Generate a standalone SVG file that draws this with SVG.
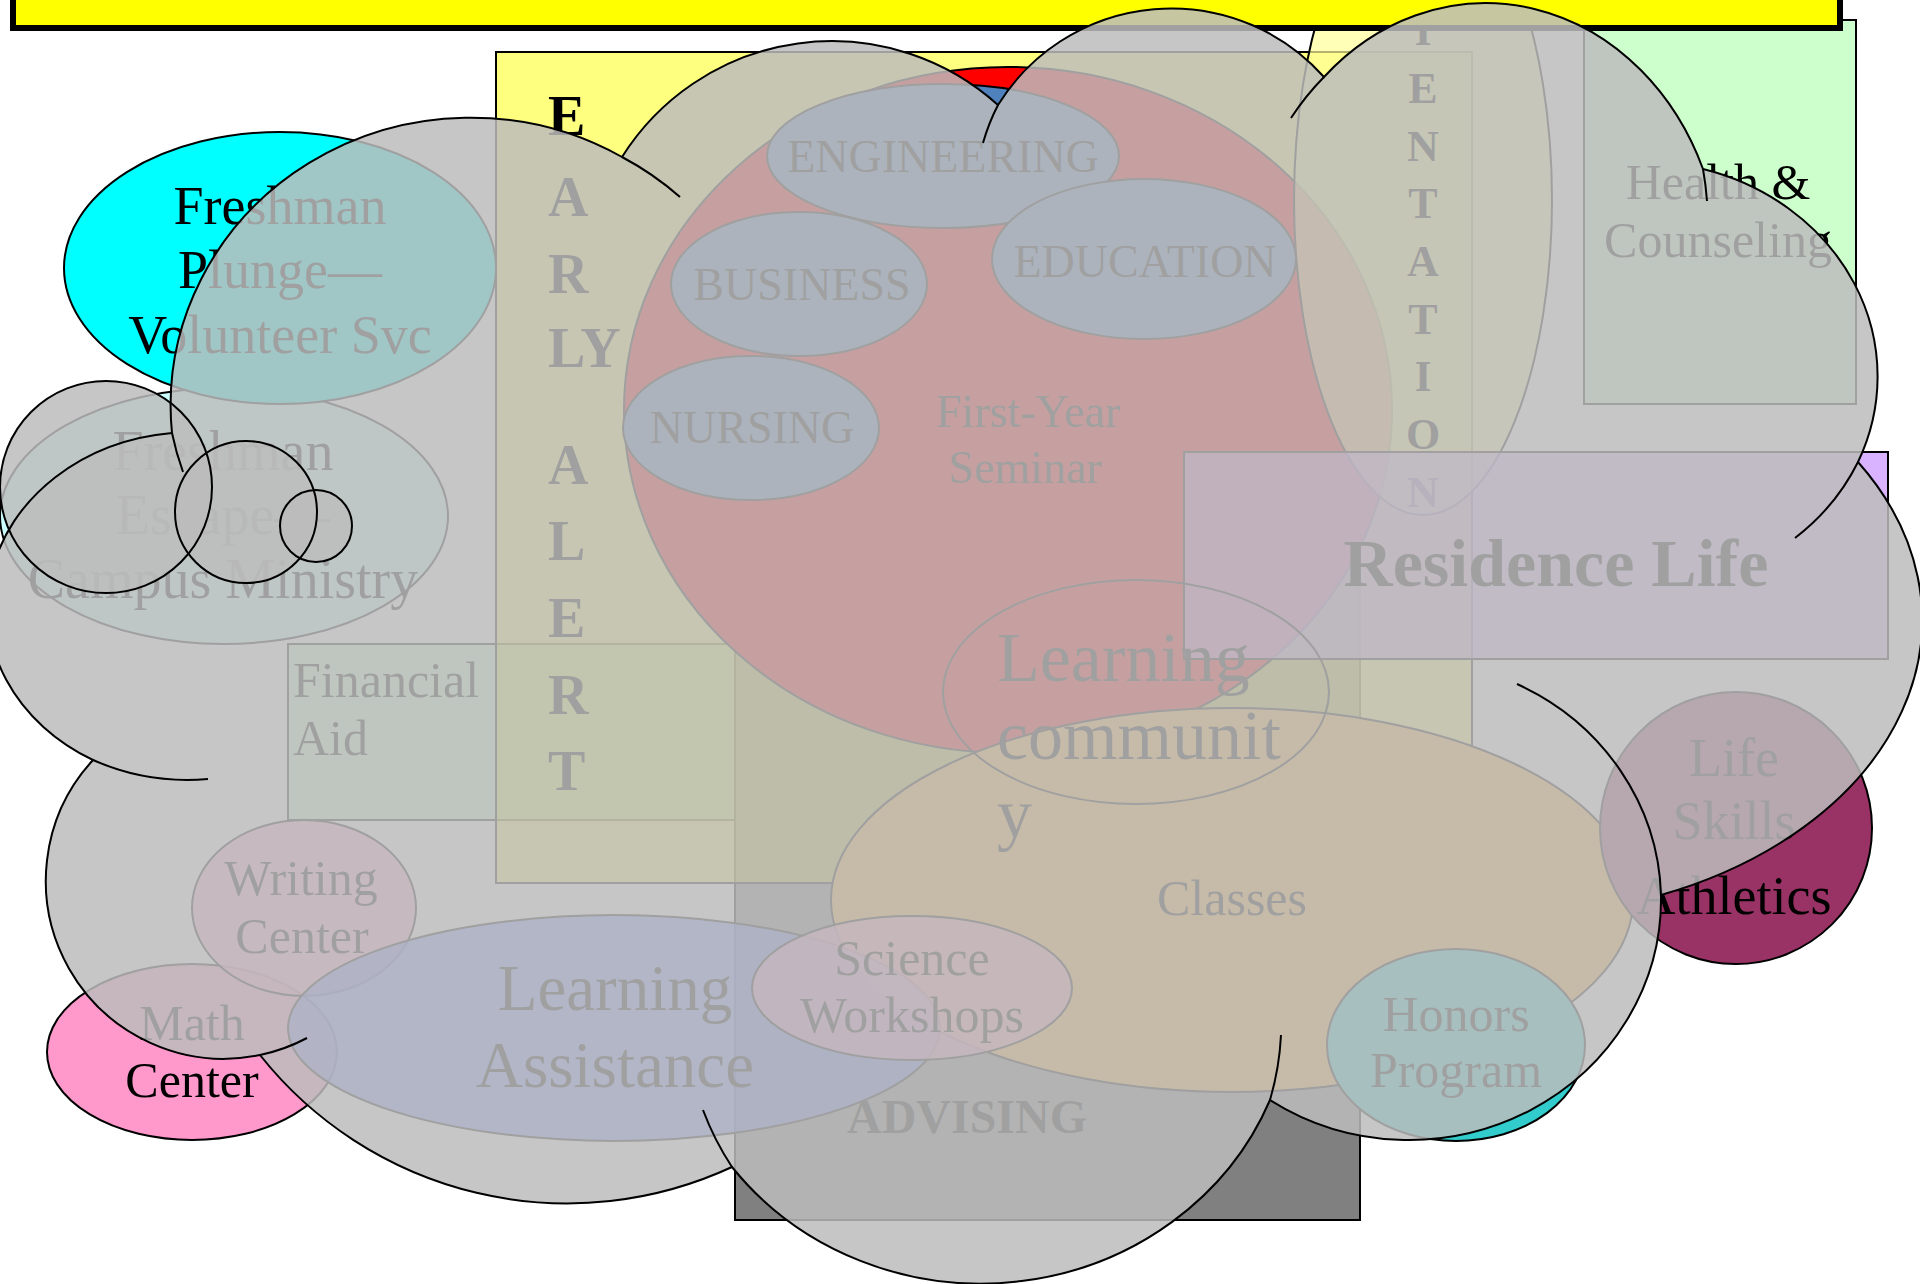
<svg xmlns="http://www.w3.org/2000/svg" width="1920" height="1284" viewBox="0 0 1920 1284">
  <style>
    text { font-family: "Liberation Serif", "Times New Roman", serif; fill: #000; }
    .c { text-anchor: middle; }
    .b { font-weight: bold; }
    .s { stroke: #000; stroke-width: 2; }
    .cloudfill { fill: #bcbcbc; fill-opacity: 0.85; stroke: none; }
    .cloudline { fill: none; stroke: #000; stroke-width: 2; }
  </style>

  <g id="health-counseling">
    <rect x="1584" y="20" width="272" height="384" fill="#ccffcc" class="s"/>
    <text class="c" x="1718" y="199" font-size="50">Health &amp;</text>
    <text class="c" x="1718" y="257" font-size="50">Counseling</text>
  </g>

  <g id="financial-aid">
    <rect x="288" y="644" width="447" height="176" fill="#ccffcc" class="s"/>
    <text x="293" y="697" font-size="50">Financial</text>
    <text x="293" y="755" font-size="50">Aid</text>
  </g>

  <g id="advising">
    <rect x="735" y="450" width="625" height="770" fill="#808080" class="s"/>
    <text class="c b" x="967" y="1133" font-size="48">ADVISING</text>
  </g>

  <g id="freshman-escape">
    <ellipse cx="224" cy="516" rx="224" ry="128" fill="#ccffff" class="s"/>
    <text class="c" x="223" y="470" font-size="56">Freshman</text>
    <text class="c" x="223" y="534" font-size="56">Escape—</text>
    <text class="c" x="223" y="598" font-size="56">Campus Ministry</text>
  </g>

  <g id="early-alert">
    <rect x="496" y="52" width="976" height="831" fill="#ffff00" fill-opacity="0.5" class="s"/>
    <!-- vertical label, one letter per line -->
    <text class="b" font-size="56" x="548" y="135"><tspan x="548">E</tspan><tspan x="548" dy="81">A</tspan><tspan x="548" dy="77">R</tspan><tspan x="548" dy="74">LY</tspan><tspan x="548" dy="117">A</tspan><tspan x="548" dy="76">L</tspan><tspan x="548" dy="77">E</tspan><tspan x="548" dy="77">R</tspan><tspan x="548" dy="76">T</tspan></text>
  </g>

  <g id="first-year-seminar">
    <ellipse cx="1008" cy="410" rx="384" ry="343" fill="#ff0000" class="s"/>
    <text class="c" x="1028" y="427" font-size="46">First-Year</text>
    <text class="c" x="1025" y="483" font-size="46">Seminar</text>
  </g>

  <g id="engineering">
    <ellipse cx="943" cy="156" rx="176" ry="72" fill="#4f81bd" class="s"/>
    <text class="c" x="943" y="172" font-size="46">ENGINEERING</text>
  </g>
  <g id="business">
    <ellipse cx="799" cy="284" rx="128" ry="72" fill="#4f81bd" class="s"/>
    <text class="c" x="802" y="300" font-size="46">BUSINESS</text>
  </g>
  <g id="nursing">
    <ellipse cx="751" cy="428" rx="128" ry="72" fill="#4f81bd" class="s"/>
    <text class="c" x="752" y="443" font-size="46">NURSING</text>
  </g>
  <g id="education">
    <ellipse cx="1144" cy="259" rx="152" ry="80" fill="#4f81bd" class="s"/>
    <text class="c" x="1145" y="277" font-size="46">EDUCATION</text>
  </g>

  <g id="orientation">
    <ellipse cx="1423" cy="200" rx="129" ry="315" fill="#ffff99" fill-opacity="0.7" class="s"/>
    <!-- vertical label; its first letters run up under the banner -->
    <text class="c b" font-size="44" x="1423" y="-70"><tspan x="1423">O</tspan><tspan x="1423" dy="58">R</tspan><tspan x="1423" dy="57">I</tspan><tspan x="1423" dy="58">E</tspan><tspan x="1423" dy="58">N</tspan><tspan x="1423" dy="57">T</tspan><tspan x="1423" dy="58">A</tspan><tspan x="1423" dy="58">T</tspan><tspan x="1423" dy="57">I</tspan><tspan x="1423" dy="58">O</tspan><tspan x="1423" dy="58">N</tspan></text>
  </g>

  <g id="residence-life">
    <rect x="1184" y="452" width="704" height="207" fill="#cc99ff" fill-opacity="0.75" class="s"/>
    <text class="c b" x="1556" y="586" font-size="68">Residence Life</text>
  </g>

  <g id="classes">
    <ellipse cx="1232" cy="900" rx="401" ry="192" fill="#ffb040" class="s"/>
    <text class="c" x="1232" y="915" font-size="50">Classes</text>
  </g>

  <g id="learning-community">
    <ellipse cx="1136" cy="692" rx="193" ry="112" fill="none" class="s"/>
    <text x="997" y="681" font-size="70">Learning</text>
    <text x="997" y="759" font-size="70">communit</text>
    <text x="997" y="837" font-size="70">y</text>
  </g>

  <g id="honors-program">
    <ellipse cx="1456" cy="1045" rx="129" ry="96" fill="#33cccc" class="s"/>
    <text class="c" x="1456" y="1031" font-size="50">Honors</text>
    <text class="c" x="1456" y="1087" font-size="50">Program</text>
  </g>

  <g id="life-skills-athletics">
    <ellipse cx="1736" cy="828" rx="136" ry="136" fill="#993366" class="s"/>
    <text class="c" x="1734" y="776" font-size="54">Life</text>
    <text class="c" x="1734" y="839" font-size="54">Skills</text>
    <text class="c" x="1734" y="914" font-size="54">Athletics</text>
  </g>

  <g id="freshman-plunge">
    <ellipse cx="280" cy="268" rx="216" ry="136" fill="#00ffff" class="s"/>
    <text class="c" x="280" y="224" font-size="54">Freshman</text>
    <text class="c" x="280" y="288" font-size="54">Plunge—</text>
    <text class="c" x="280" y="353" font-size="54">Volunteer Svc</text>
  </g>

  <g id="math-center">
    <ellipse cx="192" cy="1052" rx="145" ry="88" fill="#ff99cc" class="s"/>
    <text class="c" x="192" y="1040" font-size="50">Math</text>
    <text class="c" x="192" y="1097" font-size="50">Center</text>
  </g>

  <g id="writing-center">
    <ellipse cx="304" cy="908" rx="112" ry="88" fill="#ff99cc" fill-opacity="0.8" class="s"/>
    <text class="c" x="301" y="895" font-size="50">Writing</text>
    <text class="c" x="302" y="953" font-size="50">Center</text>
  </g>

  <g id="learning-assistance">
    <ellipse cx="614" cy="1028" rx="326" ry="113" fill="#5577ff" fill-opacity="0.8" class="s"/>
    <text class="c" x="615" y="1010" font-size="65">Learning</text>
    <text class="c" x="615" y="1087" font-size="65">Assistance</text>
  </g>

  <g id="science-workshops">
    <ellipse cx="912" cy="988" rx="160" ry="72" fill="#ff99cc" fill-opacity="0.8" class="s"/>
    <text class="c" x="912" y="975" font-size="50">Science</text>
    <text class="c" x="912" y="1032" font-size="50">Workshops</text>
  </g>

  <!-- title banner sits over the shapes below it -->
  <g id="title">
    <rect x="13" y="-40" width="1827" height="68" fill="#ffff00" stroke="#000" stroke-width="6"/>
  </g>

  <!-- translucent cloud callout laid over everything -->
  <g id="cloud">
    <path class="cloudfill" d="M 93 760 A 205 175 0 0 1 172 433 A 300 288 0 0 1 622 157 A 248 248 0 0 1 998 105 A 204 204 0 0 1 1324 77 A 236 272 0 0 1 1703 169 A 237 215 0 0 1 1858 462 A 415 296 0 0 1 1661 895 A 252 241 0 0 1 1270 1100 A 312 294 0 0 1 732 1167 A 392 392 0 0 1 260 1055 A 178 178 0 0 1 93 760 Z"/>
    <circle class="cloudfill" cx="106" cy="487" r="106"/>
    <circle class="cloudfill" cx="246" cy="512" r="71"/>
    <circle class="cloudfill" cx="316" cy="526" r="36"/>

    <path class="cloudline" d="M 93 760 A 205 175 0 0 1 172 433 A 300 288 0 0 1 622 157 A 248 248 0 0 1 998 105 A 204 204 0 0 1 1324 77 A 236 272 0 0 1 1703 169 A 237 215 0 0 1 1858 462 A 415 296 0 0 1 1661 895 A 252 241 0 0 1 1270 1100 A 312 294 0 0 1 732 1167 A 392 392 0 0 1 260 1055 A 178 178 0 0 1 93 760 Z"/>
    <circle class="cloudline" cx="106" cy="487" r="106"/>
    <circle class="cloudline" cx="246" cy="512" r="71"/>
    <circle class="cloudline" cx="316" cy="526" r="36"/>
    <!-- inner puff arcs -->
    <path class="cloudline" d="M 172 433 A 300 288 0 0 0 183 472 M 622 157 A 300 288 0 0 1 680 197 M 983 143 A 204 204 0 0 1 998 105 M 1291 118 A 236 272 0 0 1 1324 77 M 1703 169 A 236 272 0 0 1 1707 201 M 1858 462 A 237 215 0 0 1 1795 538 M 1517 684 A 252 241 0 0 1 1661 895 M 1281 1035 A 312 294 0 0 1 1270 1100 M 732 1167 A 312 294 0 0 1 703 1110 M 260 1055 A 178 178 0 0 0 307 1038 M 208 779 A 205 175 0 0 1 93 760"/>
  </g>
</svg>
